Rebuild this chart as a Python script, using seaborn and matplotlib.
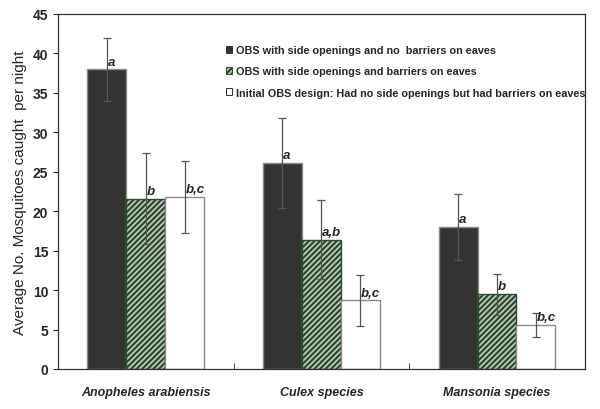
import pandas as pd
import seaborn as sns
import matplotlib.pyplot as plt
from matplotlib.patches import Patch
import numpy as np

# data
species = ["Anopheles arabiensis", "Culex species", "Mansonia species"]
designs = ["OBS with side openings and no  barriers on eaves",
           "OBS with side openings and barriers on eaves",
           "Initial OBS design: Had no side openings but had barriers on eaves"]
means_open_nobarrier = [38.0, 26.1, 18.0]
means_open_barrier = [21.6, 16.4, 9.5]
means_initial = [21.8, 8.7, 5.6]
err_open_nobarrier = [4.0, 5.7, 4.2]
err_open_barrier = [5.8, 5.0, 2.6]
err_initial = [4.6, 3.2, 1.5]
letters_open_nobarrier = ["a", "a", "a"]
letters_open_barrier = ["b", "a,b", "b"]
letters_initial = ["b,c", "b,c", "b,c"]

means = [means_open_nobarrier, means_open_barrier, means_initial]
errs = [err_open_nobarrier, err_open_barrier, err_initial]
letters = [letters_open_nobarrier, letters_open_barrier, letters_initial]

rows = []
for d, m in zip(designs, means):
    for s, v in zip(species, m):
        rows.append({"species": s, "design": d, "mean": v})
df = pd.DataFrame(rows)

sns.set_style("ticks")
plt.rcParams["font.family"] = ["Liberation Sans", "DejaVu Sans"]
plt.rcParams["hatch.linewidth"] = 1.6

colors = ["#333333", "#c6c9c4", "#ffffff"]
edges = ["#8a8a8a", "#2a4d2a", "#8a8a8a"]
hatches = [None, "//////", None]

fig = plt.figure(figsize=(6, 4.1), dpi=100)
ax = fig.add_axes([0.0967, 0.0976, 0.878, 0.866])

sns.barplot(data=df, x="species", y="mean", hue="design", hue_order=designs,
            palette=colors, width=0.665, errorbar=None, ax=ax, saturation=1,
            legend=False)

bar_groups = list(ax.containers)
for i, cont in enumerate(bar_groups):
    for j, bar in enumerate(cont.patches):
        bar.set_edgecolor(edges[i])
        bar.set_linewidth(1.0)
        if hatches[i]:
            bar.set_hatch(hatches[i])
        cx = bar.get_x() + bar.get_width() / 2
        h = bar.get_height()
        ax.errorbar(cx, h, yerr=errs[i][j], fmt="none", ecolor="#555555",
                    elinewidth=0.9, capsize=3, capthick=0.9)
        ax.text(cx + 0.005, h + 0.2, letters[i][j], fontsize=9.5,
                fontweight="bold", fontstyle="italic", ha="left", va="bottom")

ax.set_ylim(0, 45)
ax.set_yticks(range(0, 46, 5))
ax.set_xlim(-0.5, 2.5)
ax.set_xticks([-0.5, 0.5, 1.5, 2.5], minor=True)
ax.tick_params(axis="x", which="major", length=0, pad=12)
ax.tick_params(axis="x", which="minor", length=4, direction="in")
ax.set_xticklabels(species, fontsize=9, fontweight="bold", fontstyle="italic")
for lab in ax.get_yticklabels():
    lab.set_fontweight("bold")
    lab.set_fontsize(10)
ax.set_xlabel("")
ax.set_ylabel("Average No. Mosquitoes caught  per night", fontsize=11)
for sp in ax.spines.values():
    sp.set_color("#333333")
    sp.set_linewidth(0.9)

handles = [Patch(facecolor=colors[k], edgecolor=edges[k] if k == 1 else "#333333",
                 hatch=hatches[k], linewidth=0.7) for k in range(3)]
leg = ax.legend(handles, designs, loc="upper left", bbox_to_anchor=(0.3, 0.94),
                frameon=False, fontsize=7.8, handlelength=0.6, handleheight=0.6,
                handletextpad=0.3, labelspacing=1.05)
for t in leg.get_texts():
    t.set_fontweight("bold")

fig.savefig("out.png", dpi=100)
